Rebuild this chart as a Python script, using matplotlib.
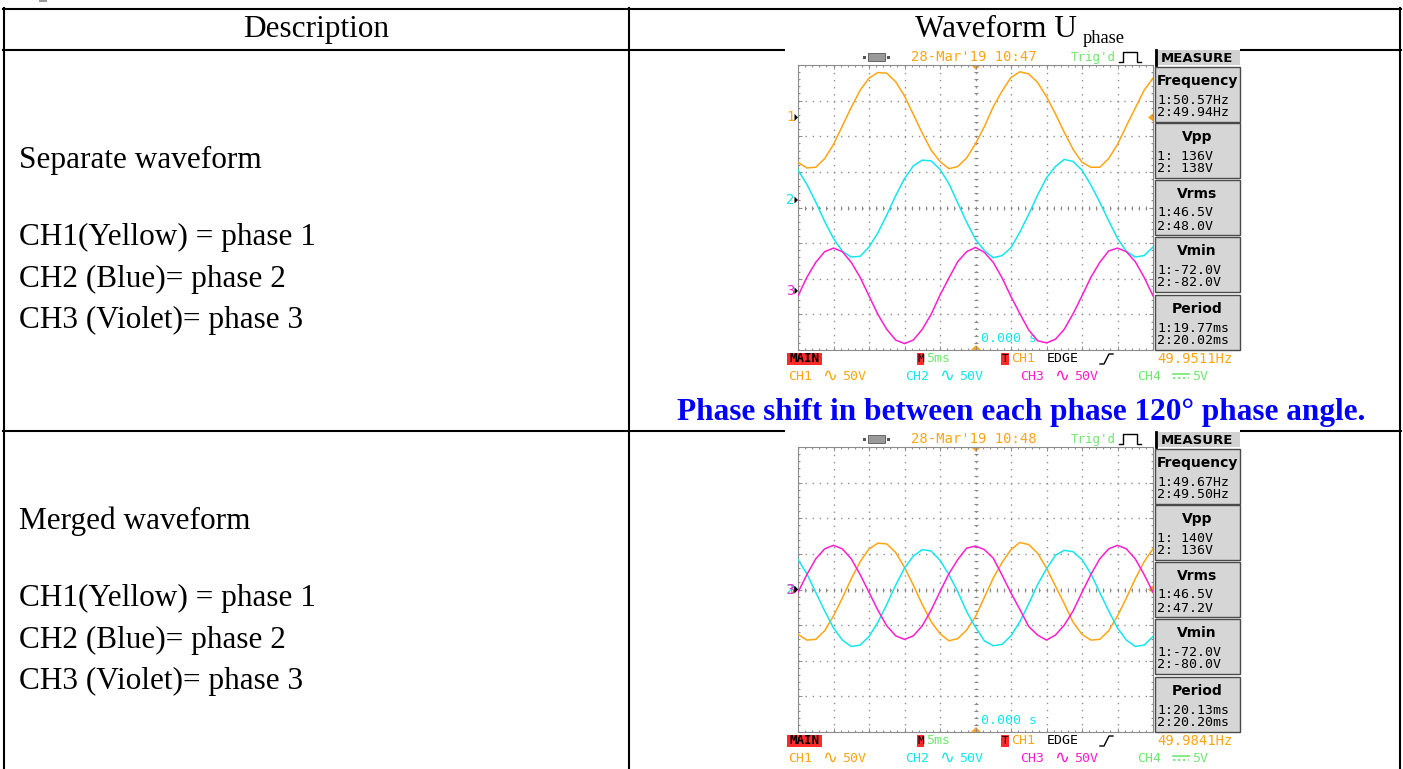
import matplotlib
matplotlib.use('Agg')
import matplotlib.pyplot as plt
from matplotlib.patches import Rectangle, Polygon
import numpy as np

W, H = 1403, 769

# ---- table texts ----
header_left = 'Description'
header_right = 'Waveform U'
header_sub = 'phase'
row_titles = ['Separate waveform', 'Merged waveform']
channel_lines = ['CH1(Yellow) = phase 1', 'CH2 (Blue)= phase 2', 'CH3 (Violet)= phase 3']
note = 'Phase shift in between each phase 120\u00b0 phase angle.'

# ---- scope traces ----
# time in ms (5 ms/div, trigger at 0), volts relative to each channel ground
t_ms = np.arange(-25, 25.01, 1.25)

sep_ch1 = [-63, -71, -70, -58, -38, -12, 14, 38, 55, 63, 62, 50, 30, 4, -22, -46,
           -62, -72, -69, -57, -37, -13, 15, 37, 56, 64, 61, 49, 29, 5, -21, -45,
           -63, -70, -70, -58, -38, -12, 13, 38, 55]
sep_ch2 = [42, 22, -3, -30, -54, -72, -80, -79, -66, -46, -21, 6, 30, 48, 56, 55,
           43, 23, -4, -31, -55, -71, -81, -78, -67, -45, -20, 7, 31, 47, 57, 54,
           42, 21, -3, -29, -54, -72, -80, -78, -66]
sep_ch3 = [-7, 19, 40, 55, 60, 55, 40, 19, -7, -33, -54, -69, -74, -69, -54, -33,
           -6, 18, 41, 55, 61, 54, 40, 18, -8, -32, -55, -70, -73, -68, -54, -32,
           -7, 19, 40, 56, 60, 55, 41, 19, -7]

mer_ch1 = [-63, -71, -70, -58, -37, -12, 15, 39, 57, 65, 64, 52, 31, 6, -21, -45,
           -62, -72, -69, -57, -38, -11, 16, 38, 56, 66, 63, 51, 30, 5, -20, -46,
           -63, -71, -70, -58, -37, -12, 15, 39, 57]
mer_ch2 = [42, 22, -4, -30, -54, -71, -80, -78, -66, -46, -21, 6, 30, 47, 56, 54,
           41, 21, -3, -31, -53, -72, -79, -77, -65, -45, -20, 7, 29, 48, 55, 53,
           42, 22, -4, -30, -54, -71, -80, -78, -66]
mer_ch3 = [-4, 21, 43, 57, 62, 57, 43, 21, -4, -29, -51, -65, -70, -65, -51, -29,
           -3, 22, 42, 58, 61, 56, 44, 20, -5, -28, -52, -64, -71, -64, -50, -30,
           -4, 21, 43, 57, 62, 57, 43, 21, -4]

# channel ground markers, in divisions from screen centre
sep_ground = [2.53, 0.21, -2.34]
mer_ground = [0.0, 0.0, 0.0]

sep_stamp = "28-Mar'19 10:47"
mer_stamp = "28-Mar'19 10:48"
measure_names = ['Frequency', 'Vpp', 'Vrms', 'Vmin', 'Period']
sep_measure = [('1:50.57Hz', '2:49.94Hz'), ('1: 136V', '2: 138V'), ('1:46.5V', '2:48.0V'),
               ('1:-72.0V', '2:-82.0V'), ('1:19.77ms', '2:20.02ms')]
mer_measure = [('1:49.67Hz', '2:49.50Hz'), ('1: 140V', '2: 136V'), ('1:46.5V', '2:47.2V'),
               ('1:-72.0V', '2:-80.0V'), ('1:20.13ms', '2:20.20ms')]
sep_trig_freq = '49.9511Hz'
mer_trig_freq = '49.9841Hz'

ORANGE = '#ffa514'
CYAN = '#14e6f0'
MAGENTA = '#ff1ecf'
GREEN = '#6fe86f'
RED = '#ff2a2a'
ch_colors = [ORANGE, CYAN, MAGENTA]
MONO = 'DejaVu Sans Mono'
SERIF = 'Liberation Serif'

fig = plt.figure(figsize=(W / 100, H / 100), dpi=100)
base = fig.add_axes([0, 0, 1, 1])
base.set_xlim(0, W)
base.set_ylim(H, 0)
base.axis('off')

# table frame
lw_tab = 1.5
base.plot([3, 1401], [9, 9], color='black', lw=lw_tab, zorder=1)
base.plot([3, 1401], [50, 50], color='black', lw=lw_tab, zorder=1)
base.plot([3, 1401], [431, 431], color='black', lw=lw_tab, zorder=1)
for x in [4, 629, 1400]:
    base.plot([x, x], [8, H + 2], color='black', lw=lw_tab, zorder=1)
base.plot([40, 46], [1, 1], color='#999999', lw=1.5)

# header
base.text(316, 37, header_left, fontsize=22.5, family=SERIF, ha='center', va='baseline')
base.text(1077, 37, header_right, fontsize=22.5, family=SERIF, ha='right', va='baseline')
base.text(1083, 43, header_sub, fontsize=13.3, family=SERIF, ha='left', va='baseline')

# left column texts
for r, dy in enumerate([0, 361]):
    base.text(19, 168 + dy, row_titles[r], fontsize=22.5, family=SERIF, va='baseline')
    for i, y in enumerate([245, 287, 328]):
        base.text(19, y + dy, channel_lines[i], fontsize=22.5, family=SERIF, va='baseline')

base.text(1021, 420, note, fontsize=22.5, family=SERIF, weight='bold', color='#0000ff',
          ha='center', va='baseline', zorder=3)


def tri(pts, color, z=5):
    base.add_patch(Polygon(pts, closed=True, fc=color, ec='none', zorder=z))


def draw_scope(dy, traces, grounds, stamp, measure, freq):
    # white screenshot background hides the table line
    base.add_patch(Rectangle((785, 47 + dy), 455, 343, fc='white', ec='none', zorder=2))

    gx0, gx1, gy0, gy1 = 798, 1153, 65 + dy, 350 + dy
    cy = (gy0 + gy1) / 2
    ax = fig.add_axes([gx0 / W, 1 - gy1 / H, (gx1 - gx0) / W, (gy1 - gy0) / H])
    ax.set_xlim(-25, 25)
    ax.set_ylim(-200, 200)
    ax.patch.set_alpha(0)
    for s in ax.spines.values():
        s.set_color('#8c8c8c')
        s.set_linewidth(0.8)
    ax.set_xticks(np.arange(-25, 26, 5))
    ax.set_yticks(np.arange(-200, 201, 50))
    ax.set_xticks(np.arange(-25, 26, 1), minor=True)
    ax.set_yticks(np.arange(-200, 201, 10), minor=True)
    ax.tick_params(which='both', direction='in', top=True, right=True,
                   labelbottom=False, labelleft=False, color='#8c8c8c', width=0.7)
    ax.tick_params(which='major', length=3)
    ax.tick_params(which='minor', length=1.5)
    ax.grid(True, color='#8f8f8f', lw=1, ls=(0, (1, 4.1)))
    ax.plot(np.arange(-25, 25.1, 1), np.zeros(51), ls='none', marker='|', ms=3,
            mew=0.8, color='#8a8a8a')
    ax.plot(np.zeros(41), np.arange(-200, 201, 10), ls='none', marker='_', ms=3,
            mew=0.8, color='#8a8a8a')
    for v, g, c in zip(traces, grounds, ch_colors):
        ax.plot(t_ms, np.array(v) + g * 50, color=c, lw=1.1, zorder=3)

    # channel ground markers
    for i, (g, c) in enumerate(zip(grounds, ch_colors)):
        y = cy - g * 35.6
        base.text(790, y, str(i + 1), family=MONO, fontsize=10, color=c,
                  ha='center', va='center', zorder=5)
        tri([(794.5, y - 3.5), (798, y), (794.5, y + 3.5)], 'black')
    ly = cy - grounds[0] * 35.6
    tri([(1153, ly - 4), (1148, ly), (1153, ly + 4)], ORANGE)
    tri([(971, gy0), (981, gy0), (976, gy0 + 5)], ORANGE)
    tri([(971, gy1), (981, gy1), (976, gy1 - 5)], ORANGE)
    base.text(981, gy1 - 11, '0.000 s', family=MONO, fontsize=9.5, color=CYAN,
              va='center', zorder=5)

    # top status bar
    ty = 57 + dy
    base.add_patch(Rectangle((868, ty - 4), 17, 8, fc='#9a9a9a', ec='#555555', lw=0.6, zorder=3))
    base.add_patch(Rectangle((863, ty - 1.5), 3, 3, fc='#555555', ec='none', zorder=3))
    base.add_patch(Rectangle((887, ty - 1.5), 3, 3, fc='#555555', ec='none', zorder=3))
    base.text(911, ty, stamp, family=MONO, fontsize=10, color=ORANGE, va='center', zorder=5)
    base.text(1071, ty, "Trig'd", family=MONO, fontsize=9, color=GREEN, va='center', zorder=5)
    base.plot([1119, 1123, 1123, 1137, 1137, 1141], [ty + 5, ty + 5, ty - 5, ty - 5, ty + 5, ty + 5],
              color='black', lw=1, zorder=5)

    # measure panel
    base.add_patch(Rectangle((1155, 50 + dy), 85, 15, fc='#d2d2d2', ec='none', zorder=3))
    base.plot([1156, 1156], [50 + dy, 65 + dy], color='black', lw=2, zorder=4)
    base.text(1197, 58 + dy, 'MEASURE', family='DejaVu Sans', weight='bold', fontsize=9.5,
              ha='center', va='center', zorder=5)
    for name, vals, top in zip(measure_names, measure, [67, 123, 180, 237, 295]):
        top = top + dy
        base.add_patch(Rectangle((1155, top), 85, 55, fc='#d6d6d6', ec='#4a4a4a', lw=1, zorder=3))
        base.text(1197, top + 14, name, family='DejaVu Sans', weight='bold', fontsize=10,
                  ha='center', va='center', zorder=5)
        base.text(1157, top + 33, vals[0], family=MONO, fontsize=9.5, va='center', zorder=5)
        base.text(1157, top + 46, vals[1], family=MONO, fontsize=9.5, va='center', zorder=5)

    # bottom status bars
    y1, y2 = 359 + dy, 376 + dy
    base.add_patch(Rectangle((787, y1 - 6), 35, 12, fc=RED, ec='none', zorder=3))
    base.text(804.5, y1, 'MAIN', family=MONO, weight='bold', fontsize=9, ha='center',
              va='center', zorder=5)
    base.add_patch(Rectangle((917, y1 - 6), 7, 12, fc=RED, ec='none', zorder=3))
    base.text(920.5, y1, 'M', family=MONO, fontsize=8, ha='center', va='center', zorder=5)
    base.text(926, y1, '5ms', family=MONO, fontsize=9.5, color=GREEN, va='center', zorder=5)
    base.add_patch(Rectangle((1001, y1 - 6), 8, 12, fc=RED, ec='none', zorder=3))
    base.text(1005, y1, 'T', family=MONO, fontsize=8, ha='center', va='center', zorder=5)
    base.text(1011, y1, 'CH1', family=MONO, fontsize=9.5, color=ORANGE, va='center', zorder=5)
    base.text(1047, y1, 'EDGE', family=MONO, fontsize=9.5, color='black', va='center', zorder=5)
    base.plot([1100, 1104, 1109, 1113], [y1 + 5, y1 + 5, y1 - 5, y1 - 5], color='black',
              lw=1, zorder=5)
    base.text(1157, y1, freq, family=MONO, fontsize=10, color=ORANGE, va='center', zorder=5)

    for x, lab, c in [(788, 'CH1', ORANGE), (905, 'CH2', CYAN), (1020, 'CH3', MAGENTA)]:
        base.text(x, y2, lab, family=MONO, fontsize=9.5, color=c, va='center', zorder=5)
        base.text(x + 34, y2, '\u223f', family='DejaVu Sans', fontsize=13, color=c,
                  va='center', zorder=5)
        base.text(x + 54, y2, '50V', family=MONO, fontsize=9.5, color=c, va='center', zorder=5)
    base.text(1137, y2, 'CH4', family=MONO, fontsize=9.5, color=GREEN, va='center', zorder=5)
    base.plot([1173, 1189], [y2 - 2, y2 - 2], color=GREEN, lw=1.2, zorder=5)
    base.plot([1173, 1189], [y2 + 2, y2 + 2], color=GREEN, lw=1.2, ls=(0, (1.5, 1.5)), zorder=5)
    base.text(1192, y2, '5V', family=MONO, fontsize=9.5, color=GREEN, va='center', zorder=5)


draw_scope(0, [sep_ch1, sep_ch2, sep_ch3], sep_ground, sep_stamp, sep_measure, sep_trig_freq)
draw_scope(382, [mer_ch1, mer_ch2, mer_ch3], mer_ground, mer_stamp, mer_measure, mer_trig_freq)

fig.savefig('out.png', dpi=100)
